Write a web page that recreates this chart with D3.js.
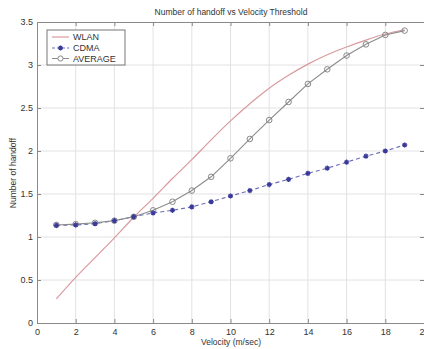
<!DOCTYPE html>
<html><head><meta charset="utf-8">
<script src="https://cdn.jsdelivr.net/npm/d3@7"></script>
<style>body{margin:0;background:#fff}svg{display:block}</style>
</head><body>
<script>
const velocity = [1,2,3,4,5,6,7,8,9,10,11,12,13,14,15,16,17,18,19];
const wlan = [0.28,0.53,0.76,0.99,1.23,1.45,1.68,1.90,2.13,2.35,2.55,2.73,2.88,3.01,3.12,3.21,3.29,3.36,3.41];
const cdma = [1.136,1.14,1.155,1.19,1.236,1.28,1.31,1.35,1.41,1.477,1.54,1.61,1.67,1.74,1.80,1.87,1.94,2.00,2.07];
const average = [1.14,1.15,1.165,1.19,1.235,1.31,1.41,1.54,1.70,1.915,2.14,2.36,2.57,2.78,2.95,3.11,3.24,3.35,3.40];
const xTicks = [0,2,4,6,8,10,12,14,16,18,20];
const yTicks = [0,0.5,1,1.5,2,2.5,3,3.5];
const seriesNames = ["WLAN","CDMA","AVERAGE"];
const title = "Number of handoff vs Velocity Threshold";
const xLabel = "Velocity (m/sec)";
const yLabel = "Number of handoff";

const W = 424, H = 349;
const m = {l:37, t:22, r:0, b:26};
const svg = d3.select("body").append("svg").attr("width",W).attr("height",H)
  .style("font-family","Arial, 'Liberation Sans', sans-serif");
const x = d3.scaleLinear().domain([0,20]).range([m.l, 424]);
const y = d3.scaleLinear().domain([0,3.5]).range([323, m.t]);
const axisCol = "#8a8a8a", textCol = "#333";

// grid
svg.append("g").selectAll("line").data(xTicks.slice(1,-1)).join("line")
  .attr("x1",d=>x(d)).attr("x2",d=>x(d)).attr("y1",y(0)).attr("y2",y(3.5))
  .attr("stroke","#e2e2e2").attr("stroke-width",1);
svg.append("g").selectAll("line").data(yTicks.slice(1,-1)).join("line")
  .attr("y1",d=>y(d)).attr("y2",d=>y(d)).attr("x1",x(0)).attr("x2",x(20))
  .attr("stroke","#e2e2e2").attr("stroke-width",1);

// axes
const ax = svg.append("g").attr("transform",`translate(0,${y(0)})`)
  .call(d3.axisBottom(x).tickValues(xTicks).tickSize(-4).tickPadding(6));
const ay = svg.append("g").attr("transform",`translate(${x(0)},0)`)
  .call(d3.axisLeft(y).tickValues(yTicks).tickSize(-4).tickPadding(4).tickFormat(d3.format("")));
const axt = svg.append("g").attr("transform",`translate(0,${y(3.5)})`)
  .call(d3.axisTop(x).tickValues(xTicks).tickSize(-4).tickFormat(""));
const ayr = svg.append("g").attr("transform",`translate(${x(20)},0)`)
  .call(d3.axisRight(y).tickValues(yTicks).tickSize(-4).tickFormat(""));
[ax,ay,axt,ayr].forEach(g=>{
  g.select(".domain").attr("stroke",axisCol);
  g.selectAll(".tick line").attr("stroke",axisCol);
  g.selectAll("text").attr("fill",textCol).style("font-size","9px");
});

// lines
const line = d3.line().x((d,i)=>x(velocity[i])).y(d=>y(d));
const lineCurve = d3.line().curve(d3.curveMonotoneX).x((d,i)=>x(velocity[i])).y(d=>y(d));
svg.append("path").datum(wlan).attr("d",lineCurve).attr("fill","none")
  .attr("stroke","#d99a9f").attr("stroke-width",1.2);
svg.append("path").datum(cdma).attr("d",line).attr("fill","none")
  .attr("stroke","#6b6bb5").attr("stroke-width",1.1).attr("stroke-dasharray","4,3");
svg.append("path").datum(average).attr("d",line).attr("fill","none")
  .attr("stroke","#8c8c8c").attr("stroke-width",1.1);

function star(g, cx, cy, r, col){
  g.append("path").attr("d",`M${cx-r},${cy}H${cx+r}M${cx},${cy-r}V${cy+r}M${cx-r*0.7},${cy-r*0.7}L${cx+r*0.7},${cy+r*0.7}M${cx-r*0.7},${cy+r*0.7}L${cx+r*0.7},${cy-r*0.7}`)
    .attr("stroke",col).attr("stroke-width",1.3);
}
const mk = svg.append("g");
average.forEach((d,i)=>{
  mk.append("circle").attr("cx",x(velocity[i])).attr("cy",y(d)).attr("r",2.8)
    .attr("fill","none").attr("stroke","#888").attr("stroke-width",1);
});
cdma.forEach((d,i)=> star(mk, x(velocity[i]), y(d), 2.6, "#3a3a9a"));

// legend
const lg = svg.append("g");
lg.append("rect").attr("x",47).attr("y",30).attr("width",78).attr("height",35)
  .attr("fill","#fff").attr("stroke","#777").attr("stroke-width",1);
const ly = [37,48,58.5];
lg.append("line").attr("x1",52).attr("x2",69).attr("y1",ly[0]).attr("y2",ly[0]).attr("stroke","#d99a9f").attr("stroke-width",1.2);
lg.append("line").attr("x1",52).attr("x2",69).attr("y1",ly[1]).attr("y2",ly[1]).attr("stroke","#6b6bb5").attr("stroke-dasharray","3,2");
star(lg, 60.5, ly[1], 2.4, "#3a3a9a");
lg.append("line").attr("x1",52).attr("x2",69).attr("y1",ly[2]).attr("y2",ly[2]).attr("stroke","#8c8c8c");
lg.append("circle").attr("cx",60.5).attr("cy",ly[2]).attr("r",2.6).attr("fill","#fff").attr("stroke","#888");
seriesNames.forEach((n,i)=>{
  lg.append("text").attr("x",73).attr("y",ly[i]+3.3).text(n).attr("fill",textCol).style("font-size","9px");
});

// titles
svg.append("text").attr("x",231).attr("y",15).attr("text-anchor","middle").attr("fill",textCol)
  .style("font-size","8.5px").text(title);
svg.append("text").attr("x",231).attr("y",345).attr("text-anchor","middle").attr("fill",textCol)
  .style("font-size","8.5px").text(xLabel);
svg.append("text").attr("transform","translate(16,173) rotate(-90)").attr("text-anchor","middle").attr("fill",textCol)
  .style("font-size","8.5px").text(yLabel);
</script>
</body></html>
